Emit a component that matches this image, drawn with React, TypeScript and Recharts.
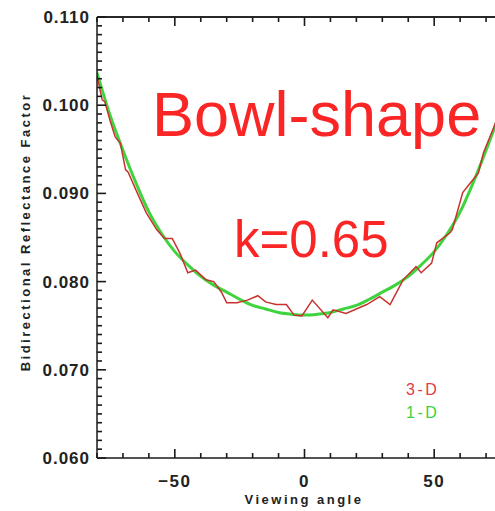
import React from 'react';
import { LineChart, Line, XAxis, YAxis, ReferenceLine } from 'recharts';

// 1-D model curve (viewing angle, BRF)
const angles1D = [-80, -75, -70, -65, -60, -55, -50, -45, -40, -35, -30, -25, -20, -15, -10, -5, 0, 5, 10, 15, 20, 25, 30, 35, 40, 45, 50, 55, 60, 65, 70, 75, 80];
const brf1D = [0.1037, 0.0989, 0.0949, 0.0912, 0.0879, 0.0854, 0.0834, 0.0819, 0.0806, 0.0796, 0.0788, 0.078, 0.0773, 0.0769, 0.0765, 0.0763, 0.0762, 0.0763, 0.0765, 0.0769, 0.0773, 0.078, 0.0788, 0.0796, 0.0806, 0.0819, 0.0834, 0.0854, 0.0879, 0.0912, 0.0949, 0.0989, 0.1037];

// 3-D simulation curve
const angles3D = [-80, -78, -77, -75, -73, -71, -69, -68, -65, -61, -57, -54, -51, -48, -45, -42, -38, -35, -32, -30, -26, -22, -18, -15, -11, -7, -4, -1, 3, 9, 11, 16, 24, 29, 33, 38, 43, 45, 49, 51, 56, 57, 61, 64, 67, 69, 73, 76, 80];
const brf3D = [0.1033, 0.1006, 0.1004, 0.0983, 0.0964, 0.0957, 0.0927, 0.0924, 0.0904, 0.0878, 0.0859, 0.0849, 0.0849, 0.0832, 0.081, 0.0813, 0.0802, 0.08, 0.0788, 0.0776, 0.0776, 0.0779, 0.0784, 0.0777, 0.0774, 0.0774, 0.0762, 0.0761, 0.0779, 0.0759, 0.0768, 0.0764, 0.0774, 0.0783, 0.0774, 0.0802, 0.0817, 0.081, 0.0821, 0.0844, 0.0855, 0.0859, 0.0901, 0.0912, 0.0923, 0.0946, 0.0975, 0.0998, 0.1032];

const xTicks = [-80, -70, -60, -50, -40, -30, -20, -10, 0, 10, 20, 30, 40, 50, 60, 70, 80];
const xLabels = [-50, 0, 50];
const yLabels = [0.06, 0.07, 0.08, 0.09, 0.1, 0.11];
const yTicks: number[] = [];
for (let i = 60; i <= 110; i++) yTicks.push(i / 1000);

const data1D = angles1D.map((a, i) => ({ angle: a, brf: brf1D[i] }));
const data3D = angles3D.map((a, i) => ({ angle: a, brf: brf3D[i] }));

const PLOT_LEFT = 97;
const PLOT_TOP = 17;
const PLOT_BOTTOM = 458;
const AXIS = '#1a1a1a';
const FONT = '"Liberation Sans", Arial, sans-serif';

const YTick = (props: any) => {
  const { y, payload } = props;
  const v = payload.value;
  const major = yLabels.some((m) => Math.abs(m - v) < 1e-7);
  return (
    <g>
      <line x1={PLOT_LEFT} y1={y} x2={PLOT_LEFT + (major ? 9 : 5)} y2={y} stroke={AXIS} strokeWidth={1.6} />
      {major && (
        <text x={90} y={y + 6} textAnchor="end" fontFamily={FONT} fontWeight="bold" fontSize={17} letterSpacing={1} fill="#222" stroke="none">
          {v.toFixed(3)}
        </text>
      )}
    </g>
  );
};

const XTickBottom = (props: any) => {
  const { x, payload } = props;
  const v = payload.value;
  const major = xLabels.includes(v);
  return (
    <g>
      <line x1={x} y1={PLOT_BOTTOM} x2={x} y2={PLOT_BOTTOM - (major ? 9 : 5)} stroke={AXIS} strokeWidth={1.6} />
      {major && (
        <text x={x} y={487} textAnchor="middle" fontFamily={FONT} fontWeight="bold" fontSize={17} letterSpacing={1.5} fill="#222" stroke="none">
          {v < 0 ? '\u2212' + Math.abs(v) : String(v)}
        </text>
      )}
    </g>
  );
};

const XTickTop = (props: any) => {
  const { x, payload } = props;
  const major = xLabels.includes(payload.value);
  return <line x1={x} y1={PLOT_TOP} x2={x} y2={PLOT_TOP + (major ? 9 : 5)} stroke={AXIS} strokeWidth={1.6} />;
};

export default function App() {
  return (
    <div style={{ position: 'absolute', left: 0, top: 0, width: 495, height: 511, overflow: 'hidden', background: '#fff' }}>
      <LineChart width={530} height={511} margin={{ top: PLOT_TOP - 1, right: 18, left: 0, bottom: 0 }}>
        <XAxis
          xAxisId="bottom"
          dataKey="angle"
          type="number"
          domain={[-80, 80]}
          ticks={xTicks}
          interval={0}
          height={53}
          tickLine={false}
          tick={<XTickBottom />}
          axisLine={{ stroke: AXIS, strokeWidth: 1.5 }}
          allowDataOverflow
        />
        <XAxis
          xAxisId="top"
          orientation="top"
          dataKey="angle"
          type="number"
          domain={[-80, 80]}
          ticks={xTicks}
          interval={0}
          height={1}
          tickLine={false}
          tick={<XTickTop />}
          axisLine={{ stroke: AXIS, strokeWidth: 1.5 }}
          allowDataOverflow
        />
        <YAxis
          type="number"
          domain={[0.06, 0.11]}
          ticks={yTicks}
          interval={0}
          width={97}
          tickLine={false}
          tick={<YTick />}
          axisLine={{ stroke: AXIS, strokeWidth: 1.5 }}
          allowDataOverflow
        />
        <ReferenceLine xAxisId="bottom" y={0.11} stroke={AXIS} strokeWidth={1.5} />
        <Line
          xAxisId="bottom"
          data={data1D}
          dataKey="brf"
          type="monotone"
          stroke="#3fd43f"
          strokeWidth={3}
          dot={false}
          isAnimationActive={false}
        />
        <Line
          xAxisId="bottom"
          data={data3D}
          dataKey="brf"
          type="linear"
          stroke="#c8322f"
          strokeWidth={1.5}
          dot={false}
          isAnimationActive={false}
        />
      </LineChart>
      <svg width={495} height={511} style={{ position: 'absolute', left: 0, top: 0, pointerEvents: 'none' }}>
        <text x={25} y={232} transform="rotate(-90 25 232)" textAnchor="middle" dominantBaseline="central" fontFamily={FONT} fontWeight="bold" fontSize={13} letterSpacing={2.5} fill="#222">
          Bidirectional Reflectance Factor
        </text>
        <text x={304} y={504} textAnchor="middle" fontFamily={FONT} fontWeight="bold" fontSize={13} letterSpacing={2.5} fill="#222">
          Viewing angle
        </text>
        <text x={152} y={136} fontFamily={FONT} fontSize={63} fill="#fa2626">
          Bowl-shape
        </text>
        <text x={234} y={257} fontFamily={FONT} fontSize={51} fill="#fa2626">
          k=0.65
        </text>
        <text x={406} y={395} fontFamily={FONT} fontSize={16} letterSpacing={2.5} fill="#e23a46">
          3-D
        </text>
        <text x={406} y={418} fontFamily={FONT} fontSize={16} letterSpacing={2.5} fill="#3ad43a">
          1-D
        </text>
      </svg>
    </div>
  );
}
